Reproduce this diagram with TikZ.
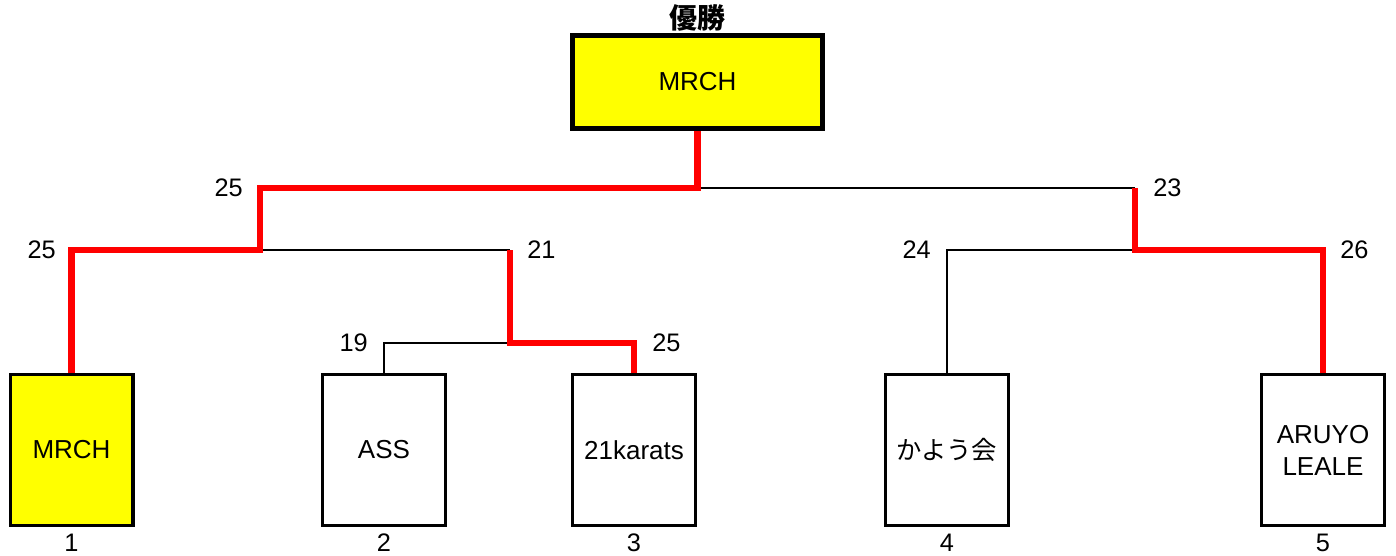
\documentclass[tikz,border=0pt]{standalone}
\usepackage{fontspec}
\setmainfont{Liberation Sans}
\newfontfamily\jpfont{Noto Sans CJK JP}
\usetikzlibrary{positioning}
\definecolor{winyellow}{RGB}{255,255,0}

\tikzset{
  team/.style={draw,line width=2.5pt,minimum width=92pt,minimum height=113pt,
    align=center,inner sep=0pt,font=\fontsize{19.5}{24}\selectfont},
  champbox/.style={draw,line width=3.75pt,fill=winyellow,minimum width=187.5pt,
    minimum height=69.75pt,inner sep=0pt,font=\fontsize{19.5}{24}\selectfont},
  score/.style={inner sep=0pt,font=\fontsize{19}{22}\selectfont},
  win/.style={draw=red,line width=4.9pt,line join=miter},
  lose/.style={draw=black,line width=2pt}
}

\begin{document}
\begin{tikzpicture}[x=0.75pt,y=-0.75pt]
\useasboundingbox (0,0) rectangle (1396,556);

\node (champ) [champbox] at (697.5,82) {MRCH};
\node (title) [font=\jpfont\bfseries\fontsize{21}{22}\selectfont,inner sep=0pt]
  at (697.5,18) {優勝};

\node (t1) [team,fill=winyellow] at (71.5,450) {MRCH};
\node (t2) [team] at (384,450) {ASS};
\node (t3) [team] at (634,450) {21karats};
\node (t4) [team,font=\jpfont\fontsize{19}{24}\selectfont] at (947,450) {かよう会};
\node (t5) [team] at (1323,450) {ARUYO\\LEALE};

\foreach \i in {1,...,5}
  \node (n\i) [score,below=5pt of t\i] {\i};

\coordinate (q23) at (510,343);
\coordinate (s1) at (260,250);
\coordinate (s2) at (1135,250);
\coordinate (f) at (697.5,188);

\draw[lose] (t2.north) |- (q23);
\draw[lose] (q23 |- s1) -- (s1);
\draw[lose] (t4.north) |- (s2);
\draw[lose] (s2 |- f) -- (f);

\draw[win] (t1.north) |- (s1) -- (s1 |- f) -- (f) -- (champ.south);
\draw[win] (t3.north) |- (q23) -- (q23 |- s1);
\draw[win] (t5.north) |- (s2) -- (s2 |- f);

\node (sc1) [score,anchor=east] at (56,250) {25};
\node (sc2) [score,anchor=east] at (243,188) {25};
\node (sc3) [score,anchor=west] at (527,250) {21};
\node (sc4) [score,anchor=east] at (368,343) {19};
\node (sc5) [score,anchor=west] at (652,343) {25};
\node (sc6) [score,anchor=west] at (1153,188) {23};
\node (sc7) [score,anchor=east] at (931,250) {24};
\node (sc8) [score,anchor=west] at (1340,250) {26};
\end{tikzpicture}
\end{document}
